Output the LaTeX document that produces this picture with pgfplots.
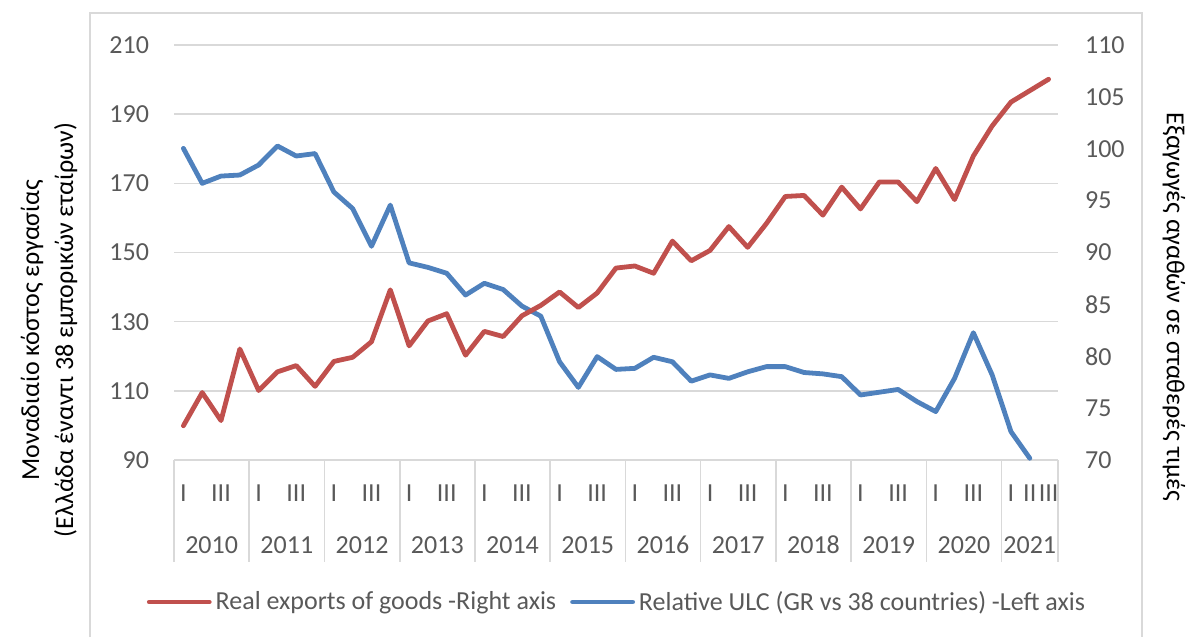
\documentclass[border=0pt]{standalone}
\usepackage{fontspec}
\setmainfont{Carlito}
\usepackage{pgfplots}
\pgfplotsset{compat=1.18}
\definecolor{rd}{HTML}{C0504D}
\definecolor{bl}{HTML}{4F81BD}
\definecolor{gridgray}{HTML}{D9D9D9}
\definecolor{txtgray}{HTML}{595959}
\begin{document}
\begin{tikzpicture}[font=\fontsize{13pt}{15.6pt}\selectfont]
\path[use as bounding box] (0,0) rectangle (596pt,318.5pt);
\draw[gridgray, line width=0.8pt] (45pt,0pt) -- (45pt,312pt) -- (571pt,312pt) -- (571pt,0pt);
\begin{axis}[
  at={(87pt,88.5pt)}, anchor=south west, scale only axis,
  width=442pt, height=207.5pt,
  xmin=0, xmax=47, ymin=90, ymax=210,
  ytick={90,110,...,210},
  axis y line*=left, axis x line*=bottom,
  axis line style={draw=none},
  ymajorgrids, grid style={draw=gridgray, line width=0.8pt},
  major tick length=0pt,
  /pgf/number format/assume math mode=true,
  yticklabel style={font=\fontsize{13pt}{15.6pt}\selectfont, text=txtgray, xshift=-9pt},
  xtick={0.5,2.5,4.5,6.5,8.5,10.5,12.5,14.5,16.5,18.5,20.5,22.5,24.5,26.5,28.5,30.5,32.5,34.5,36.5,38.5,40.5,42.5,44.5,45.5,46.5},
  xticklabels={I,III,I,III,I,III,I,III,I,III,I,III,I,III,I,III,I,III,I,III,I,III,I,II,III},
  xticklabel style={font=\fontsize{13pt}{15.6pt}\selectfont, text=txtgray, anchor=center, yshift=-16.5pt},
  clip=false,
]
\addplot[bl, line width=2.4pt, line join=round, line cap=round] coordinates {
(0.5,180.1)(1.5,170.0)(2.5,172.1)(3.5,172.4)(4.5,175.3)(5.5,180.8)(6.5,177.9)(7.5,178.6)
(8.5,167.5)(9.5,162.7)(10.5,151.8)(11.5,163.7)(12.5,147.0)(13.5,145.7)(14.5,144.0)(15.5,137.7)
(16.5,141.1)(17.5,139.3)(18.5,134.5)(19.5,131.6)(20.5,118.4)(21.5,111.0)(22.5,119.9)(23.5,116.2)
(24.5,116.5)(25.5,119.7)(26.5,118.4)(27.5,112.8)(28.5,114.6)(29.5,113.6)(30.5,115.5)(31.5,117.0)
(32.5,117.0)(33.5,115.3)(34.5,114.9)(35.5,114.1)(36.5,108.8)(37.5,109.6)(38.5,110.4)(39.5,106.9)
(40.5,104.0)(41.5,113.6)(42.5,126.8)(43.5,114.6)(44.5,98.2)(45.5,90.5)
};
\pgfplotsinvokeforeach{0,4,8,12,16,20,24,28,32,36,40,44,47}{
  \draw[gridgray, line width=0.8pt] (axis cs:#1,90) -- ++(0pt,-51pt);
}
\begin{scope}[every node/.style={text=txtgray, anchor=center, yshift=-42.5pt}]
\node at (axis cs:2,90) {2010};
\node at (axis cs:6,90) {2011};
\node at (axis cs:10,90) {2012};
\node at (axis cs:14,90) {2013};
\node at (axis cs:18,90) {2014};
\node at (axis cs:22,90) {2015};
\node at (axis cs:26,90) {2016};
\node at (axis cs:30,90) {2017};
\node at (axis cs:34,90) {2018};
\node at (axis cs:38,90) {2019};
\node at (axis cs:42,90) {2020};
\node at (axis cs:45.5,90) {2021};
\end{scope}
\end{axis}
\begin{axis}[
  at={(87pt,88.5pt)}, anchor=south west, scale only axis,
  width=442pt, height=207.5pt,
  xmin=0, xmax=47, ymin=70, ymax=110,
  ytick={70,75,...,110},
  axis y line*=right, hide x axis,
  axis line style={draw=none},
  major tick length=0pt,
  /pgf/number format/assume math mode=true,
  yticklabel style={font=\fontsize{13pt}{15.6pt}\selectfont, text=txtgray, xshift=10pt},
  clip=false,
  legend style={at={(rel axis cs:0.5,0)}, anchor=center, yshift=-71pt, xshift=1pt, draw=none, fill=none,
    font=\fontsize{13pt}{15.6pt}\selectfont, text=txtgray, legend columns=2,
    /tikz/every even column/.append style={column sep=5pt},
    inner sep=0pt},
  legend image code/.code={\draw[#1, line cap=round] (0pt,0pt) -- (30pt,0pt);},
]
\addplot[rd, line width=2.4pt, line join=round, line cap=round] coordinates {
(0.5,73.3)(1.5,76.5)(2.5,73.8)(3.5,80.7)(4.5,76.7)(5.5,78.5)(6.5,79.1)(7.5,77.1)
(8.5,79.5)(9.5,79.9)(10.5,81.4)(11.5,86.4)(12.5,81.0)(13.5,83.4)(14.5,84.1)(15.5,80.1)
(16.5,82.4)(17.5,81.9)(18.5,83.9)(19.5,84.9)(20.5,86.2)(21.5,84.7)(22.5,86.1)(23.5,88.5)
(24.5,88.7)(25.5,88.0)(26.5,91.1)(27.5,89.2)(28.5,90.2)(29.5,92.5)(30.5,90.5)(31.5,92.8)
(32.5,95.4)(33.5,95.5)(34.5,93.6)(35.5,96.3)(36.5,94.2)(37.5,96.8)(38.5,96.8)(39.5,94.9)
(40.5,98.1)(41.5,95.1)(42.5,99.3)(43.5,102.2)(44.5,104.5)(45.5,105.6)(46.5,106.7)
};
\addlegendentry{Real exports of goods -Right axis}
\addlegendimage{bl, line width=2.4pt}
\addlegendentry{Relative ULC (GR vs 38 countries) -Left axis}
\end{axis}
\node[rotate=90, align=center, font=\fontsize{13pt}{17pt}\selectfont] at (24.5pt,153.5pt)
  {Μοναδιαίο κόστος εργασίας\\(Ελλάδα έναντι 38 εμπορικών εταίρων)};
\node[rotate=-90] at (587pt,165pt) {Εξαγωγές αγαθών σε σταθερές τιμές};
\end{tikzpicture}
\end{document}
